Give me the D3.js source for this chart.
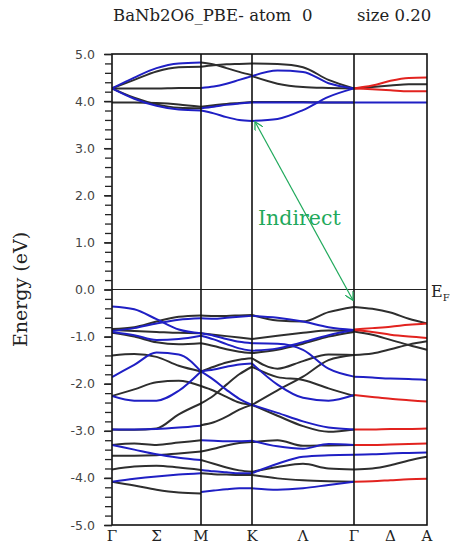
<!DOCTYPE html>
<html>
<head>
<meta charset="utf-8">
<script src="https://cdn.jsdelivr.net/npm/d3@7"></script>
<style>
  html, body { margin: 0; padding: 0; background: #fff; }
  svg { display: block; }
</style>
</head>
<body>
<svg id="chart" width="451" height="544"></svg>
<script>
// ---- k-path: high-symmetry points (cumulative path length) ----
const kNodes = [0, 0.89, 1.40, 2.42, 3.15];            // Γ, M, K, Γ, A
const kNodeNames = ["Γ", "M", "K", "Γ", "A"];
const kMidLabels = [["Σ", 0], ["Λ", 2], ["Δ", 3]];      // label, index of the segment it sits in
const sampleFrac = [0, 0.25, 0.5, 0.75, 1];            // where each band energy is sampled inside a segment

// ---- energy axis ----
const eDomain = [-5, 5];
const eMajor = [-5, -4, -3, -2, -1, 0, 1, 2, 3, 4, 5];

// ---- band energies (eV) per segment: [character, energies at sampleFrac] ----
// k = unprojected, b = blue projection, r = red projection
const bandsGM = [
  ["k", [4.27, 4.45, 4.63, 4.72, 4.73]],
  ["k", [4.27, 4.27, 4.27, 4.28, 4.28]],
  ["k", [3.97, 3.97, 3.96, 3.93, 3.88]],
  ["k", [4.27, 4.07, 3.93, 3.86, 3.85]],
  ["b", [4.27, 4.50, 4.70, 4.80, 4.82]],
  ["b", [4.27, 4.05, 3.90, 3.82, 3.80]],
  ["k", [-0.84, -0.80, -0.68, -0.58, -0.55]],
  ["k", [-0.86, -0.88, -0.90, -0.92, -0.93]],
  ["k", [-0.92, -1.00, -1.12, -1.16, -1.14]],
  ["k", [-1.40, -1.37, -1.43, -1.62, -1.74]],
  ["k", [-2.26, -2.12, -1.97, -1.94, -2.05]],
  ["k", [-2.97, -2.98, -2.95, -2.65, -2.42]],
  ["k", [-3.30, -3.27, -3.30, -3.25, -3.20]],
  ["k", [-3.53, -3.53, -3.52, -3.48, -3.44]],
  ["k", [-3.82, -3.76, -3.74, -3.78, -3.83]],
  ["k", [-4.08, -4.16, -4.25, -4.31, -4.33]],
  ["b", [-0.36, -0.42, -0.63, -0.85, -0.93]],
  ["b", [-0.88, -0.82, -0.72, -0.64, -0.61]],
  ["b", [-0.90, -0.97, -1.07, -1.05, -0.98]],
  ["b", [-1.86, -1.60, -1.34, -1.38, -1.74]],
  ["b", [-2.26, -2.36, -2.36, -2.15, -1.74]],
  ["b", [-2.97, -2.97, -2.96, -2.93, -2.89]],
  ["b", [-3.30, -3.40, -3.50, -3.57, -3.62]],
  ["b", [-4.08, -4.02, -3.97, -3.93, -3.90]]
];

const bandsMK = [
  ["k", [4.82, 4.78, 4.70, 4.62, 4.55]],
  ["k", [4.73, 4.76, 4.78, 4.79, 4.80]],
  ["k", [3.88, 3.91, 3.94, 3.96, 3.98]],
  ["b", [4.28, 4.31, 4.37, 4.45, 4.53]],
  ["b", [3.85, 3.88, 3.92, 3.95, 3.97]],
  ["b", [3.80, 3.74, 3.66, 3.60, 3.58]],
  ["k", [-0.55, -0.56, -0.56, -0.55, -0.54]],
  ["k", [-0.93, -0.96, -0.99, -1.02, -1.05]],
  ["k", [-1.14, -1.20, -1.27, -1.32, -1.35]],
  ["k", [-1.74, -1.64, -1.55, -1.49, -1.46]],
  ["k", [-2.05, -2.15, -2.28, -2.40, -2.45]],
  ["k", [-2.42, -2.25, -2.02, -1.80, -1.64]],
  ["k", [-2.88, -2.82, -2.70, -2.55, -2.45]],
  ["k", [-3.44, -3.38, -3.31, -3.26, -3.24]],
  ["k", [-3.62, -3.70, -3.78, -3.84, -3.87]],
  ["k", [-3.90, -3.92, -3.93, -3.94, -3.94]],
  ["b", [-0.61, -0.62, -0.60, -0.58, -0.56]],
  ["b", [-0.93, -0.98, -1.05, -1.11, -1.14]],
  ["b", [-0.98, -1.06, -1.16, -1.25, -1.30]],
  ["b", [-1.74, -1.70, -1.64, -1.59, -1.57]],
  ["b", [-1.74, -1.92, -2.13, -2.32, -2.45]],
  ["b", [-3.20, -3.21, -3.22, -3.22, -3.21]],
  ["b", [-3.83, -3.86, -3.88, -3.90, -3.90]],
  ["b", [-4.30, -4.27, -4.24, -4.22, -4.22]]
];

const bandsKG = [
  ["k", [4.80, 4.79, 4.72, 4.45, 4.27]],
  ["k", [4.53, 4.37, 4.30, 4.28, 4.27]],
  ["k", [3.98, 3.98, 3.98, 3.97, 3.97]],
  ["b", [4.53, 4.65, 4.62, 4.38, 4.27]],
  ["b", [3.97, 3.97, 3.97, 3.97, 3.97]],
  ["b", [3.58, 3.62, 3.81, 4.09, 4.27]],
  ["k", [-0.54, -0.66, -0.68, -0.48, -0.37]],
  ["k", [-1.05, -0.98, -0.92, -0.87, -0.88]],
  ["k", [-1.35, -1.28, -1.15, -1.00, -0.90]],
  ["k", [-1.46, -1.68, -1.52, -1.38, -1.39]],
  ["k", [-1.64, -1.86, -1.92, -2.10, -2.26]],
  ["k", [-2.45, -2.14, -1.85, -1.50, -1.39]],
  ["k", [-2.45, -2.68, -2.90, -3.02, -2.97]],
  ["k", [-3.24, -3.20, -3.32, -3.31, -3.30]],
  ["k", [-3.87, -3.77, -3.70, -3.80, -3.82]],
  ["k", [-3.94, -4.01, -4.05, -4.07, -4.08]],
  ["b", [-0.56, -0.60, -0.68, -0.80, -0.86]],
  ["b", [-1.14, -1.15, -1.28, -1.68, -1.85]],
  ["b", [-1.30, -1.25, -1.12, -0.97, -0.86]],
  ["b", [-1.57, -2.02, -2.30, -2.36, -2.24]],
  ["b", [-2.45, -2.62, -2.80, -2.93, -2.97]],
  ["b", [-3.21, -3.33, -3.38, -3.28, -3.30]],
  ["b", [-3.90, -3.70, -3.55, -3.52, -3.51]],
  ["b", [-4.22, -4.25, -4.22, -4.15, -4.08]]
];

const bandsGA = [
  ["k", [4.27, 4.30, 4.33, 4.36, 4.36]],
  ["k", [-0.37, -0.41, -0.49, -0.62, -0.72]],
  ["k", [-0.89, -0.96, -1.07, -1.18, -1.28]],
  ["k", [-1.39, -1.36, -1.27, -1.17, -1.10]],
  ["k", [-3.82, -3.80, -3.73, -3.63, -3.55]],
  ["b", [3.97, 3.97, 3.97, 3.97, 3.97]],
  ["b", [-1.85, -1.87, -1.89, -1.90, -1.92]],
  ["b", [-3.51, -3.50, -3.48, -3.47, -3.46]],
  ["r", [4.27, 4.33, 4.43, 4.49, 4.50]],
  ["r", [4.27, 4.25, 4.23, 4.21, 4.21]],
  ["r", [-0.85, -0.82, -0.79, -0.75, -0.72]],
  ["r", [-0.86, -0.90, -0.96, -1.00, -1.03]],
  ["r", [-2.24, -2.28, -2.32, -2.35, -2.38]],
  ["r", [-2.97, -2.97, -2.96, -2.96, -2.95]],
  ["r", [-3.30, -3.30, -3.29, -3.28, -3.27]],
  ["r", [-4.08, -4.07, -4.05, -4.03, -4.02]]
];

const segments = [bandsGM, bandsMK, bandsKG, bandsGA];

// indirect gap: conduction-band minimum at K to valence-band maximum at Γ
const gapArrow = [[1.43, 3.56], [2.41, -0.23]];
const gapLabel = "Indirect";
const titleParts = ["BaNb2O6_PBE- atom", "0", "size 0.20"];

// ---- drawing ----
const colors = { k: "#2e2e2e", b: "#1f1fc4", r: "#e2231f" };
const svg = d3.select("#chart");
const margin = { left: 112, right: 24, top: 54, bottom: 19 };
const W = 451, H = 544;

const x = d3.scaleLinear().domain([kNodes[0], kNodes[kNodes.length - 1]])
  .range([margin.left, W - margin.right]);
const y = d3.scaleLinear().domain(eDomain).range([H - margin.bottom, margin.top]);

svg.append("rect").attr("width", W).attr("height", H).attr("fill", "#fff");

// band lines
const line = d3.line()
  .x(d => x(d[0])).y(d => y(d[1]))
  .curve(d3.curveMonotoneX);

const pieces = [];
segments.forEach((seg, i) => {
  const k0 = kNodes[i], k1 = kNodes[i + 1];
  seg.forEach(([c, es]) => {
    pieces.push({ c, pts: es.map((e, j) => [k0 + (k1 - k0) * sampleFrac[j], e]) });
  });
});
const order = { k: 0, b: 1, r: 2 };
pieces.sort((a, b) => order[a.c] - order[b.c]);

svg.append("clipPath").attr("id", "clip").append("rect")
  .attr("x", x.range()[0]).attr("y", y.range()[1])
  .attr("width", x.range()[1] - x.range()[0]).attr("height", y.range()[0] - y.range()[1]);
const plot = svg.append("g").attr("clip-path", "url(#clip)");

plot.selectAll("path.band").data(pieces).join("path")
  .attr("class", "band")
  .attr("d", d => line(d.pts))
  .attr("fill", "none")
  .attr("stroke", d => colors[d.c])
  .attr("stroke-width", 2)
  .attr("stroke-linejoin", "round");

// Fermi level
svg.append("line")
  .attr("x1", x.range()[0]).attr("x2", x.range()[1])
  .attr("y1", y(0)).attr("y2", y(0))
  .attr("stroke", "#222").attr("stroke-width", 1);

// high-symmetry verticals
svg.selectAll("line.sym").data(kNodes.slice(1, -1)).join("line")
  .attr("class", "sym")
  .attr("x1", d => x(d)).attr("x2", d => x(d))
  .attr("y1", y.range()[1]).attr("y2", y.range()[0])
  .attr("stroke", "#111").attr("stroke-width", 1.6);

// frame
svg.append("rect")
  .attr("x", x.range()[0]).attr("y", y.range()[1])
  .attr("width", x.range()[1] - x.range()[0]).attr("height", y.range()[0] - y.range()[1])
  .attr("fill", "none").attr("stroke", "#111").attr("stroke-width", 1.6);

// energy axis: major ticks with labels, minor ticks every 0.2 eV
const minor = d3.range(eDomain[0], eDomain[1] + 1e-9, 0.2);
svg.append("g")
  .attr("transform", `translate(${x.range()[0]},0)`)
  .call(d3.axisLeft(y).tickValues(minor).tickSize(7).tickFormat(""))
  .call(g => g.select(".domain").remove())
  .call(g => g.selectAll("line").attr("stroke", "#222").attr("stroke-width", 1.3));

svg.append("g")
  .attr("transform", `translate(${x.range()[0]},0)`)
  .call(d3.axisLeft(y).tickValues(eMajor).tickSize(8).tickPadding(9)
    .tickFormat(d => d.toFixed(1)))
  .call(g => g.select(".domain").remove())
  .call(g => g.selectAll("line").attr("stroke", "#222").attr("stroke-width", 1.5))
  .call(g => g.selectAll("text")
    .attr("font-family", "DejaVu Sans, Verdana, sans-serif")
    .attr("font-size", 12.5).attr("fill", "#444"));

// k-path labels: high-symmetry points plus the line labels midway along their segments
const kLabels = kNodes.map((k, i) => ({ k, t: kNodeNames[i] }))
  .concat(kMidLabels.map(([t, i]) => ({ k: (kNodes[i] + kNodes[i + 1]) / 2, t })));

svg.selectAll("text.klab").data(kLabels).join("text")
  .attr("class", "klab")
  .attr("x", d => x(d.k)).attr("y", H - 3)
  .attr("text-anchor", "middle")
  .attr("font-family", "DejaVu Serif, serif").attr("font-size", 15)
  .attr("fill", "#222")
  .text(d => d.t);

// axis title
svg.append("text")
  .attr("transform", `translate(27,${y(0)}) rotate(-90)`)
  .attr("text-anchor", "middle")
  .attr("font-family", "DejaVu Serif, serif").attr("font-size", 19)
  .attr("fill", "#222")
  .text("Energy (eV)");

// E_F marker
const ef = svg.append("text")
  .attr("x", x.range()[1] + 4).attr("y", y(0) + 7)
  .attr("font-family", "DejaVu Serif, serif").attr("font-size", 16).attr("fill", "#222");
ef.append("tspan").text("E");
ef.append("tspan").attr("font-size", 10).attr("dy", 4).text("F");

// title
const titleX = [113, 302, 357];
svg.selectAll("text.title").data(titleParts).join("text")
  .attr("class", "title")
  .attr("x", (d, i) => titleX[i]).attr("y", 21)
  .attr("font-family", "DejaVu Serif, serif").attr("font-size", 16.5)
  .attr("fill", "#222")
  .text(d => d);

// indirect-gap arrow
const green = "#1fa95b";
const defs = svg.append("defs");
["start", "end"].forEach(w => {
  defs.append("marker")
    .attr("id", "arr-" + w)
    .attr("viewBox", "0 0 10 10").attr("refX", w === "end" ? 9 : 1).attr("refY", 5)
    .attr("markerWidth", 9).attr("markerHeight", 9).attr("markerUnits", "userSpaceOnUse")
    .attr("orient", "auto")
    .append("path")
    .attr("d", w === "end" ? "M0,0 L9,5 L0,10" : "M10,0 L1,5 L10,10")
    .attr("fill", "none").attr("stroke", green).attr("stroke-width", 1.4);
});
svg.append("line")
  .attr("x1", x(gapArrow[0][0])).attr("y1", y(gapArrow[0][1]))
  .attr("x2", x(gapArrow[1][0])).attr("y2", y(gapArrow[1][1]))
  .attr("stroke", green).attr("stroke-width", 1.2)
  .attr("marker-start", "url(#arr-start)").attr("marker-end", "url(#arr-end)");

svg.append("text")
  .attr("x", 258).attr("y", y(1.36))
  .attr("font-family", "DejaVu Serif, serif").attr("font-size", 20.5)
  .attr("fill", green)
  .text(gapLabel);
</script>
</body>
</html>
